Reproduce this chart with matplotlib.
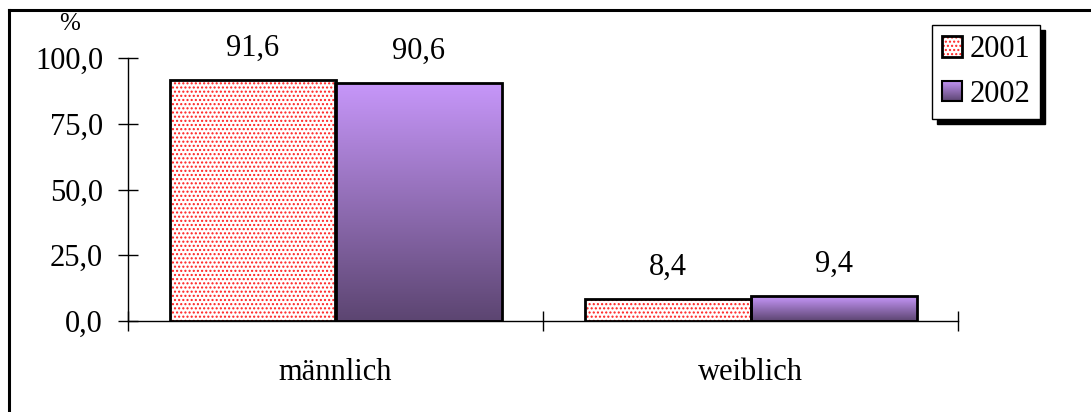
import matplotlib
matplotlib.use('Agg')
import matplotlib.pyplot as plt
import matplotlib.colors as mcolors
import numpy as np
from matplotlib.image import BboxImage
from matplotlib.legend_handler import HandlerPatch
from matplotlib.patches import Rectangle
from matplotlib.transforms import Bbox, TransformedBbox
from matplotlib.lines import Line2D

categories = ['männlich', 'weiblich']
years = ['2001', '2002']
values_2001 = [91.6, 8.4]
values_2002 = [90.6, 9.4]
yticks = [0, 25, 50, 75, 100]

plt.rcParams['font.family'] = ['Liberation Serif', 'DejaVu Serif']
plt.rcParams['hatch.linewidth'] = 1.0

# gradient for the 2002 bars, light on top, dark at the bottom
top_col = np.array(mcolors.to_rgb('#c797fa'))
bot_col = np.array(mcolors.to_rgb('#5c4571'))
t = np.linspace(0, 1, 256)[:, None, None]
grad_img = top_col * (1 - t) + bot_col * t


class GradientHandler(HandlerPatch):
    def create_artists(self, legend, orig_handle, xdescent, ydescent,
                       width, height, fontsize, trans):
        box = Bbox.from_bounds(-xdescent, -ydescent, width, height)
        img = BboxImage(TransformedBbox(box, trans), interpolation='bilinear')
        img.set_data(grad_img)
        edge = Rectangle((-xdescent, -ydescent), width, height,
                         facecolor='none', edgecolor='black', lw=1.5,
                         transform=trans)
        return [img, edge]


fig = plt.figure(figsize=(10.91, 4.12), dpi=100)
ax = fig.add_axes([128 / 1091, 1 - 321 / 412, 830 / 1091, 263 / 412])

x = np.arange(len(categories))
w = 0.4
bars1 = ax.bar(x + 0.3, values_2001, w, facecolor='white', edgecolor='black',
               lw=2, hatch='....', zorder=3, label=years[0])
for b in bars1:
    b._hatch_color = mcolors.to_rgba('#ff2020')

bars2 = ax.bar(x + 0.7, values_2002, w, facecolor='none', edgecolor='black',
               lw=2, zorder=3, label=years[1])
for b in bars2:
    x0, y0 = b.get_x(), b.get_y()
    im = ax.imshow(grad_img, extent=[x0, x0 + b.get_width(), y0, y0 + b.get_height()],
                   aspect='auto', interpolation='bilinear', zorder=2)
    im.set_clip_path(b)

fmt = lambda v: f'{v:.1f}'.replace('.', ',')
ax.bar_label(bars1, labels=[fmt(v) for v in values_2001], padding=12.5, fontsize=22)
ax.bar_label(bars2, labels=[fmt(v) for v in values_2002], padding=12.5, fontsize=22)

ax.set_xlim(0, 2)
ax.set_ylim(0, 100)
ax.set_yticks(yticks)
ax.set_yticklabels([fmt(v) for v in yticks])
ax.set_xticks([0, 1, 2])
ax.set_xticklabels([])
ax.set_xticks(x + 0.5, minor=True)
ax.set_xticklabels(categories, minor=True)
ax.tick_params(axis='both', which='major', direction='inout', length=14.4,
               width=1, labelsize=22)
ax.tick_params(axis='y', pad=10.8)
ax.tick_params(axis='x', which='minor', length=0, pad=27, labelsize=22)
for s in ['top', 'right']:
    ax.spines[s].set_visible(False)
for s in ['left', 'bottom']:
    ax.spines[s].set_linewidth(1)

leg = ax.legend(handles=[bars1, bars2[0]], labels=years,
                handler_map={bars2[0]: GradientHandler()},
                loc='upper left', bbox_to_anchor=(932 / 1091, 1 - 25 / 412),
                bbox_transform=fig.transFigure, borderaxespad=0,
                fontsize=22, handlelength=0.65, handleheight=0.65,
                handletextpad=0.25, borderpad=0.33, labelspacing=0.52,
                fancybox=False, framealpha=1, edgecolor='black',
                shadow={'ox': 3.6, 'oy': -3.6, 'facecolor': 'black',
                        'edgecolor': 'black', 'alpha': 1})
leg.get_frame().set_linewidth(1)

fig.text(70 / 1091, 1 - 24 / 412, '%', fontsize=18, ha='center', va='center')

# outer frame (only top and left edges are visible in the original)
fig.add_artist(Line2D([8.5 / 1091, 1], [1 - 9.5 / 412, 1 - 9.5 / 412],
                      transform=fig.transFigure, color='black', lw=2.2))
fig.add_artist(Line2D([8.5 / 1091, 8.5 / 1091], [0, 1 - 9.5 / 412],
                      transform=fig.transFigure, color='black', lw=2.2))

fig.savefig('out.png', dpi=100)
plt.close(fig)
